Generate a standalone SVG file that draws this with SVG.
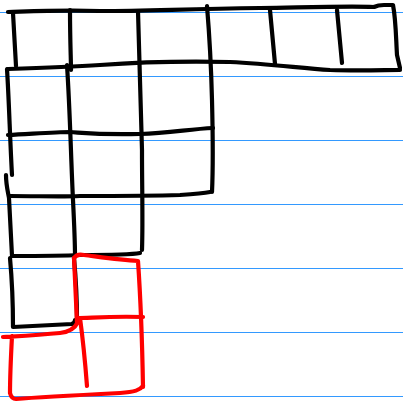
<svg xmlns="http://www.w3.org/2000/svg" width="403" height="402" viewBox="0 0 403 402">
<style>
.rule{stroke:#3399ff;stroke-width:1;fill:none}
.k{stroke:#000;stroke-width:4.2;fill:none;stroke-linecap:round;stroke-linejoin:round}
.r{stroke:#ff0000;stroke-width:4.2;fill:none;stroke-linecap:round;stroke-linejoin:round}
</style>
<rect width="403" height="402" fill="#fff"/>
<g id="rules">
<line class="rule" x1="0" y1="12.5" x2="403" y2="12.5"/>
<line class="rule" x1="0" y1="76.5" x2="403" y2="76.5"/>
<line class="rule" x1="0" y1="140.5" x2="403" y2="140.5"/>
<line class="rule" x1="0" y1="204.5" x2="403" y2="204.5"/>
<line class="rule" x1="0" y1="268.5" x2="403" y2="268.5"/>
<line class="rule" x1="0" y1="332.5" x2="403" y2="332.5"/>
<line class="rule" x1="0" y1="396.5" x2="403" y2="396.5"/>
</g>
<g id="black-grid">
<path class="k" d="M8 12 C40 11 60 10 100 11 C150 11 180 9 260 8 C320 7 350 6 374 7 C378 5 381 5 384 5 L393 5 C396 20 396 40 397 55 L400 68"/>
<path class="k" d="M8 69 C40 68 70 67 100 65 C140 62 180 61 230 62 C270 64 300 68 330 70 C360 71 385 70 400 70"/>
<path class="k" d="M13 13 L16 66"/>
<path class="k" d="M70 10 C70 40 71 60 71 70"/>
<path class="k" d="M270 10 L275 64"/>
<path class="k" d="M337 10 L342 63"/>
<path class="k" d="M7 69 C9 100 10 140 12 175 M6 175 C6 185 8 192 9 198 C10 220 11 240 12 256 M10 258 C12 280 13 300 13 327 L72 324 C74 323 75 322 75 320"/>
<path class="k" d="M67 65 C70 110 71 160 73 200 C74 220 75 240 75 256 M74 258 C76 280 77 300 77 320"/>
<path class="k" d="M138 11 C139 60 141 100 142 150 C142 190 143 220 142 250"/>
<path class="k" d="M207 6 C209 30 211 60 212 100 C213 140 213 170 212 192"/>
<path class="k" d="M8 135 C30 134 55 132 70 132 C85 133 100 135 140 134 C170 133 190 129 213 128"/>
<path class="k" d="M10 196 C40 196 60 197 80 196 C120 196 150 196 180 195 C195 194 205 193 210 192"/>
<path class="k" d="M12 256 C40 256 60 256 80 255 C110 255 130 255 140 253"/>
</g>
<g id="red-cells">
<path class="r" d="M74 258 C76 255 80 254 84 255 C100 257 120 260 138 261 C140 290 142 330 143 387"/>
<path class="r" d="M74 258 C75 280 76 300 77 323"/>
<path class="r" d="M77 318 C90 318 110 316 143 317"/>
<path class="r" d="M80 318 C83 340 85 360 87 386"/>
<path class="r" d="M3 337 C20 336 40 335 60 333 C70 332 75 328 78 322 M12 336 C11 355 10 375 10 393 C11 397 13 399 16 399 C40 397 80 395 120 393 C135 392 140 390 143 386"/>
</g>
</svg>
